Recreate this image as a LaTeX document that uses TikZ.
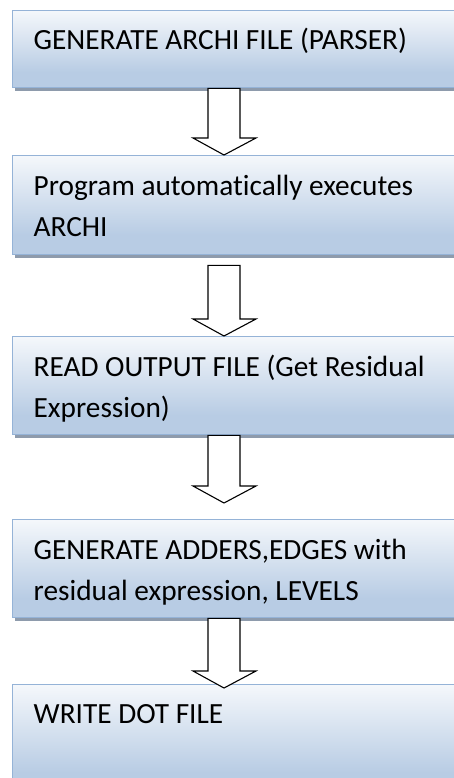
\documentclass[tikz,border=0pt]{standalone}
\usepackage{fontspec}
\setmainfont{Carlito}[Ligatures=NoCommon]
\usetikzlibrary{calc,shadows}
\definecolor{boxblue}{HTML}{B8CCE4}
\definecolor{boxline}{HTML}{95B3D7}
\definecolor{shadowgrey}{HTML}{8E9BAC}
\pgfdeclareverticalshading{boxshade}{100bp}{color(0bp)=(boxblue); color(35bp)=(boxblue); color(80bp)=(white!96!boxblue); color(100bp)=(white!96!boxblue)}
\newcommand\bxline[1]{\hbox to 460pt{\hskip21pt\smash{#1}\hfil}}
\newcommand\bxone[2]{\vbox to #1{\offinterlineskip\vskip 39pt\bxline{#2}\vfill}}
\newcommand\bxtwo[3]{\vbox to #1{\offinterlineskip\vskip 40pt\bxline{#2}\vskip41pt\bxline{#3}\vfill}}
\newcommand\blockarrow[2]{\draw[barrow] let \p1=(#1), \p2=(#2) in (\x1-16pt,\y1) -- (\x1-16pt,\y2+17pt) -- (\x1-31pt,\y2+17pt) -- (\x1,\y2) -- (\x1+32pt,\y2+17pt) -- (\x1+16pt,\y2+17pt) -- (\x1+16pt,\y1) -- cycle;}
\tikzset{
  flowbox/.style={rectangle, anchor=north west, inner sep=0pt, minimum width=460pt,
    shading=boxshade, draw=boxline, line width=1.4pt,
    drop shadow={shadow xshift=2.5pt, shadow yshift=-3.5pt, fill=shadowgrey, opacity=1},
    font=\fontsize{29.3pt}{34pt}\selectfont},
  barrow/.style={draw=black, fill=white, line width=1.1pt, line join=miter}
}
\begin{document}
\begin{tikzpicture}[x=1pt,y=1pt]
\useasboundingbox (0,0) rectangle (454,-778);
\clip (0,0) rectangle (454,-778);
\fill[white] (0,0) rectangle (454,-778);
\node[flowbox] (b1) at (12,-10) {\bxone{77pt}{GENERATE ARCHI FILE (PARSER)}};
\node[flowbox] (b2) at (12,-155) {\bxtwo{99pt}{Program automatically executes}{ARCHI}};
\node[flowbox] (b3) at (12,-336) {\bxtwo{98pt}{READ OUTPUT FILE (Get Residual}{Expression)}};
\node[flowbox] (b4) at (12,-519) {\bxtwo{98pt}{GENERATE ADDERS,EDGES with}{residual expression, LEVELS}};
\node[flowbox] (b5) at (12,-684) {\bxone{110pt}{WRITE DOT FILE}};
\coordinate (ax) at (224,0);
\coordinate (s1) at (b1.south -| ax);
\coordinate (t1) at (b2.north -| ax);
\coordinate (s2) at ($(b2.south -| ax)+(0,-10)$);
\coordinate (t2) at (b3.north -| ax);
\coordinate (s3) at (b3.south -| ax);
\coordinate (t3) at ($(b4.north -| ax)+(0,16)$);
\coordinate (s4) at (b4.south -| ax);
\coordinate (t4) at ($(b5.north -| ax)+(0,-4)$);
\blockarrow{s1}{t1}
\blockarrow{s2}{t2}
\blockarrow{s3}{t3}
\blockarrow{s4}{t4}
\end{tikzpicture}
\end{document}
